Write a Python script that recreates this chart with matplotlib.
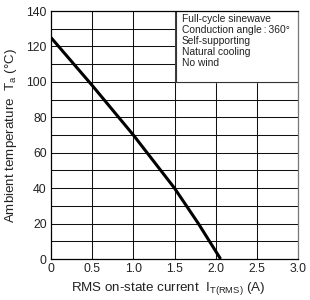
import matplotlib
matplotlib.use("Agg")
import matplotlib.pyplot as plt
import numpy as np

plt.rcParams['font.family'] = ['Liberation Sans', 'DejaVu Sans']
plt.rcParams['mathtext.fontset'] = 'custom'
plt.rcParams['mathtext.rm'] = 'Liberation Sans'
plt.rcParams['mathtext.it'] = 'Liberation Sans'

# derating curve
current = [0.0, 0.5, 1.0, 1.5, 1.79, 2.06]
temperature = [125, 98, 70, 40, 20, 0]

xticks = [0, 0.5, 1.0, 1.5, 2.0, 2.5, 3.0]
xticklabels = ["0", "0.5", "1.0", "1.5", "2.0", "2.5", "3.0"]
yticks = [0, 20, 40, 60, 80, 100, 120, 140]

notes = ["Full-cycle sinewave", "Conduction angle\u2009:\u2009360°", "Self-supporting",
         "Natural cooling", "No wind"]

fig = plt.figure(figsize=(3.1, 3.0), dpi=100)
ax = fig.add_axes([51/310, 41/300, 247/310, 248/300])

ax.set_xlim(0, 3.0)
ax.set_ylim(0, 140)

# grid every 0.5 A and every 10 degC
for x in np.arange(0.5, 3.0, 0.5):
    ax.axvline(x, color='#111111', lw=0.75, zorder=1)
for y in np.arange(10, 140, 10):
    ax.axhline(y, color='#111111', lw=0.75, zorder=1)

ax.plot(current, temperature, color='black', lw=2.2, zorder=3,
        solid_capstyle='butt')

# notes box top right
ax.fill_between([1.52, 3.0], 100, 140, color='white', zorder=2)
ax.plot([1.52, 1.52, 3.0], [140, 100, 100], color='#333333', lw=0.8, zorder=2)
ty = 135.6
for line in notes:
    ax.text(1.59, ty, line, fontsize=7.4, va='center', ha='left', color='#222222', zorder=4)
    ty -= 6.25

ax.set_xticks(xticks)
ax.set_xticklabels(xticklabels)
ax.set_yticks(yticks)
ax.tick_params(length=0, labelsize=8.8, pad=3, colors='#222222')

for s in ['left', 'bottom', 'top']:
    ax.spines[s].set_color('black')
    ax.spines[s].set_linewidth(0.9)
ax.spines['right'].set_color('#777777')
ax.spines['right'].set_linewidth(0.9)

ax.set_xlabel(r"RMS on-state current  $\mathregular{I_{T(RMS)}}$ (A)", fontsize=9.6,
              color='#222222')
ax.xaxis.set_label_coords(0.475, -0.085)
ax.set_ylabel(r"Ambient temperature  $\mathregular{T_a}$ (°C)", fontsize=9.6,
              labelpad=5, color='#222222')

fig.savefig("out.png", dpi=100)
